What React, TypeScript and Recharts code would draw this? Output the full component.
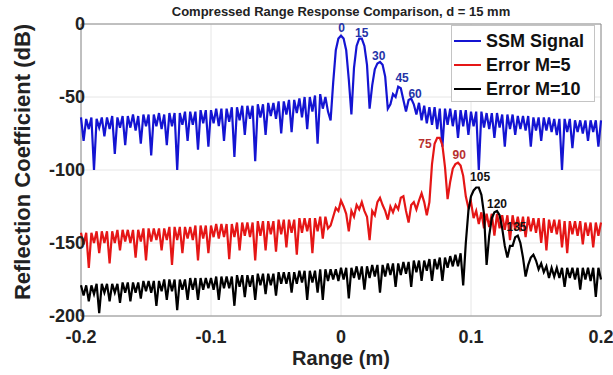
import {
  CartesianGrid,
  Label,
  Legend,
  Line,
  LineChart,
  ReferenceArea,
  ReferenceDot,
  XAxis,
  YAxis,
} from 'recharts';

// sampling grid of the range axis (m)
const rangeStart = -0.2;
const rangeStep = 0.002;

const ssmSignal = [
  -64, -80, -65, -72, -64, -100, -65, -71, -64, -77,
  -64, -72, -63, -89, -64, -71, -63, -83, -63, -71,
  -62, -73, -63, -82, -62, -70, -62, -90, -62, -70,
  -61, -72, -62, -83, -61, -70, -61, -100, -61, -69,
  -60, -80, -60, -69, -60, -86, -59, -68, -59, -84,
  -59, -68, -58, -70, -58, -80, -58, -67, -57, -91,
  -57, -66, -56, -76, -56, -65, -56, -94, -55, -64,
  -55, -76, -54, -63, -54, -65, -53, -75, -53, -62,
  -52, -74, -52, -61, -51, -64, -50, -72, -50, -60,
  -49, -82, -48, -58, -50, -60, -66, -40, -18, -10,
  -8, -10, -18, -38, -62, -30, -15, -10, -10, -15,
  -28, -58, -42, -31, -27, -26, -28, -36, -58, -55,
  -48, -50, -43, -44, -52, -60, -52, -51, -55, -62,
  -54, -66, -56, -68, -57, -69, -57, -72, -58, -84,
  -58, -69, -58, -70, -59, -78, -59, -70, -59, -76,
  -60, -70, -60, -100, -60, -71, -61, -72, -61, -78,
  -61, -71, -62, -84, -62, -72, -62, -76, -63, -72,
  -63, -73, -63, -84, -64, -73, -64, -80, -64, -73,
  -64, -74, -65, -76, -65, -100, -65, -74, -65, -85,
  -66, -74, -66, -75, -66, -80, -66, -74, -66, -84,
  -66,
];

const errorM5 = [
  -143, -151, -143, -167, -143, -150, -142, -157, -142, -150,
  -142, -164, -142, -150, -141, -155, -141, -149, -141, -150,
  -141, -160, -141, -149, -140, -162, -140, -149, -140, -148,
  -140, -155, -140, -148, -139, -165, -139, -148, -139, -157,
  -139, -147, -139, -148, -138, -162, -138, -147, -138, -157,
  -138, -146, -137, -147, -137, -146, -137, -161, -137, -146,
  -136, -155, -136, -145, -136, -146, -136, -162, -135, -145,
  -135, -155, -135, -144, -135, -156, -134, -144, -134, -153,
  -134, -143, -134, -158, -133, -143, -133, -142, -133, -157,
  -133, -142, -132, -147, -132, -140, -138, -132, -126, -128,
  -121, -125, -130, -142, -128, -132, -124, -127, -122, -128,
  -132, -148, -128, -131, -122, -119, -124, -128, -134, -125,
  -129, -124, -127, -119, -118, -128, -136, -124, -122, -127,
  -121, -116, -122, -131, -122, -96, -82, -78, -78, -83,
  -98, -120, -108, -99, -96, -95, -97, -104, -118, -126,
  -122, -133, -128, -137, -129, -140, -130, -139, -130, -145,
  -130, -140, -131, -141, -131, -148, -131, -141, -132, -142,
  -132, -146, -132, -142, -133, -143, -133, -150, -133, -155,
  -134, -143, -134, -144, -134, -153, -135, -157, -135, -144,
  -135, -145, -135, -151, -136, -145, -136, -153, -136, -145,
  -136,
];

const errorM10 = [
  -179, -186, -179, -190, -179, -185, -178, -198, -178, -184,
  -178, -190, -178, -184, -178, -191, -177, -184, -177, -190,
  -177, -184, -177, -188, -176, -183, -176, -184, -176, -193,
  -176, -183, -175, -189, -175, -183, -175, -196, -175, -182,
  -175, -189, -174, -182, -174, -189, -174, -182, -174, -181,
  -174, -182, -173, -189, -173, -181, -173, -181, -173, -193,
  -172, -180, -172, -187, -172, -180, -172, -189, -171, -179,
  -171, -185, -171, -179, -171, -186, -170, -178, -170, -178,
  -170, -184, -170, -178, -169, -177, -169, -189, -169, -177,
  -169, -184, -168, -189, -168, -176, -168, -175, -168, -176,
  -167, -175, -167, -188, -167, -174, -166, -175, -166, -182,
  -166, -174, -165, -173, -165, -184, -165, -173, -164, -172,
  -164, -180, -164, -172, -163, -171, -163, -180, -162, -170,
  -162, -176, -162, -169, -161, -176, -161, -168, -160, -176,
  -160, -167, -159, -166, -158, -166, -157, -179, -150, -128,
  -118, -114, -112, -112, -117, -130, -165, -145, -133, -129,
  -128, -131, -140, -152, -160, -152, -152, -146, -145, -150,
  -160, -173, -165, -160, -158, -162, -168, -164, -170, -166,
  -174, -167, -173, -167, -174, -167, -180, -167, -174, -167,
  -175, -167, -182, -167, -175, -167, -176, -167, -187, -167,
  -175,
];

// peak annotations: text is the target range in mm
const peakTexts = ['0', '15', '30', '45', '60', '75', '90', '105', '120', '135'];
const peakLabelRange = [0.0005, 0.016, 0.029, 0.047, 0.057, 0.0646, 0.091, 0.107, 0.12, 0.135];
const peakLabelDb = [-3, -6, -22, -37, -48, -82, -90, -105, -123, -139];
const peakSeries = ['ssm', 'ssm', 'ssm', 'ssm', 'ssm', 'm5', 'm5', 'm10', 'm10', 'm10'];

const xTicks = [-0.2, -0.1, 0, 0.1, 0.2];
const yTicks = [-200, -150, -100, -50, 0];

const series = [
  { key: 'ssm', name: 'SSM Signal', color: '#1414d2', labelColor: '#2533a8' },
  { key: 'm5', name: 'Error M=5', color: '#e51616', labelColor: '#b83030' },
  { key: 'm10', name: 'Error M=10', color: '#000000', labelColor: '#111111' },
];

const chartData = ssmSignal.map((v, i) => ({
  x: +(rangeStart + i * rangeStep).toFixed(4),
  ssm: v,
  m5: errorM5[i],
  m10: errorM10[i],
}));

const FONT = '"Liberation Sans", Arial, sans-serif';
const tickStyle = { fontSize: 18, fontWeight: 700, fill: '#222', fontFamily: FONT };

function LegendBox() {
  return (
    <div
      style={{
        width: 144,
        height: 77,
        boxSizing: 'border-box',
        border: '1px solid #c4c4c4',
        background: '#fff',
        paddingTop: 3,
        fontFamily: FONT,
      }}
    >
      {series.map((s) => (
        <div key={s.key} style={{ display: 'flex', alignItems: 'center', height: 24 }}>
          <span style={{ width: 27, height: 2, background: s.color, marginLeft: 2, marginRight: 5 }} />
          <span style={{ fontSize: 18, fontWeight: 700, color: '#111', whiteSpace: 'nowrap' }}>{s.name}</span>
        </div>
      ))}
    </div>
  );
}

export default function App() {
  return (
    <div style={{ position: 'absolute', left: 0, top: 0, width: 613, height: 375, background: '#fff', fontFamily: FONT }}>
      <div
        style={{
          position: 'absolute',
          left: 341,
          top: 4,
          transform: 'translateX(-50%)',
          whiteSpace: 'nowrap',
          fontSize: 13,
          lineHeight: '15px',
          fontWeight: 700,
          color: '#222',
        }}
      >
        Compressed Range Response Comparison, d = 15 mm
      </div>
      <LineChart width={613} height={375} data={chartData} margin={{ top: 24, right: 12, left: 0, bottom: 0 }}>
        <CartesianGrid stroke="#e6e6e6" />
        <XAxis
          dataKey="x"
          type="number"
          domain={[-0.2, 0.2]}
          ticks={xTicks}
          tickFormatter={(v) => String(v)}
          height={59}
          axisLine={false}
          tickLine={false}
          tickSize={0}
          tickMargin={14}
          tick={tickStyle}
        >
          <Label
            content={(props: any) => {
              const vb = props.viewBox;
              return (
                <text
                  x={vb.x + vb.width / 2}
                  y={vb.y + 42}
                  textAnchor="middle"
                  dominantBaseline="central"
                  style={{ fontSize: 20, fontWeight: 700, fill: '#222', fontFamily: FONT }}
                >
                  Range (m)
                </text>
              );
            }}
          />
        </XAxis>
        <YAxis
          type="number"
          domain={[-200, 0]}
          ticks={yTicks}
          width={81}
          axisLine={false}
          tickLine={false}
          tickSize={0}
          tickMargin={-4}
          tick={tickStyle}
        >
          <Label
            content={(props: any) => {
              const vb = props.viewBox;
              const cy = vb.y + vb.height / 2 - 8;
              return (
                <text
                  x={22}
                  y={cy}
                  transform={`rotate(-90 22 ${cy})`}
                  textAnchor="middle"
                  dominantBaseline="central"
                  style={{ fontSize: 22, fontWeight: 700, fill: '#222', fontFamily: FONT }}
                >
                  Reflection Coefficient (dB)
                </text>
              );
            }}
          />
        </YAxis>
        <ReferenceArea x1={-0.2} x2={0.2} y1={-200} y2={0} fill="none" stroke="#8c8c8c" strokeWidth={1} ifOverflow="visible" />
        {series.map((s) => (
          <Line
            key={s.key}
            type="linear"
            dataKey={s.key}
            name={s.name}
            stroke={s.color}
            strokeWidth={2.2}
            dot={false}
            isAnimationActive={false}
          />
        ))}
        {peakTexts.map((t, i) => {
          const s = series.find((d) => d.key === peakSeries[i])!;
          return (
            <ReferenceDot
              key={t}
              x={peakLabelRange[i]}
              y={peakLabelDb[i]}
              r={0}
              ifOverflow="visible"
              shape={(p: any) => (
                <text
                  x={p.cx}
                  y={p.cy}
                  textAnchor="middle"
                  dominantBaseline="central"
                  style={{ fontSize: 12, fontWeight: 700, fill: s.labelColor, fontFamily: FONT }}
                >
                  {t}
                </text>
              )}
            />
          );
        })}
        <Legend
          layout="horizontal"
          align="center"
          verticalAlign="middle"
          content={() => <LegendBox />}
          wrapperStyle={{ left: 451, top: 25, width: 144, height: 77 }}
        />
      </LineChart>
    </div>
  );
}
